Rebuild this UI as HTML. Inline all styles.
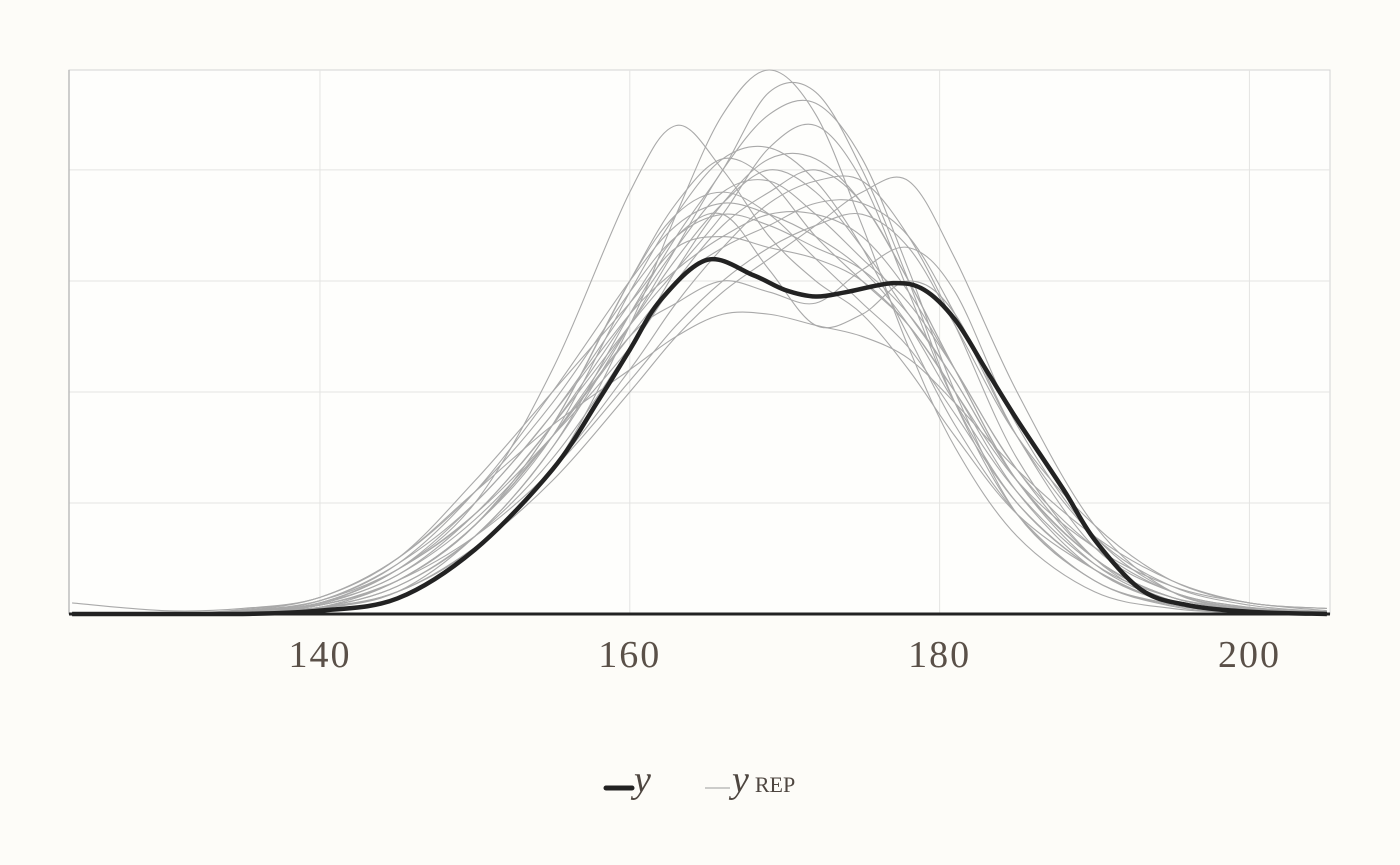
<!DOCTYPE html>
<html><head><meta charset="utf-8"><style>
html,body{margin:0;padding:0;background:#fdfcf8;}
svg{display:block;}
text{font-family:"Liberation Serif",serif;}
</style></head><body>
<svg id="chart" width="1400" height="865">
<rect width="1400" height="865" fill="#fdfcf8"/>
<g id="grid"></g>
<g id="reps"></g>
<g id="obs"></g>
<g id="axis"></g>
<g>
  <line x1="606" y1="788" x2="632" y2="788" stroke="#222" stroke-width="5" stroke-linecap="round"/>
  <text x="634" y="792" font-size="38" font-style="italic" fill="#4e4640">y</text>
  <line x1="705" y1="788" x2="730" y2="788" stroke="#bbb" stroke-width="1.5"/>
  <text x="732" y="792" font-size="38" font-style="italic" fill="#4e4640">y<tspan font-style="normal" font-size="22" dx="6">REP</tspan></text>
</g>
</svg>
<script>
const gridX = [124,130,135,140,145,150,155,160,163,166,169,172,175,178,181,185,190,195,200,205];
const xTicks = [140,160,180,200];
const yGrid = [0.01,0.02,0.03,0.04];
const yObsX = [124,130,135,140,145,150,155,158,160,162,165,168,170,172,174,177,179,181,183,185,188,190,193,196,200,205];
const yObs = [0,0,0,0.0003,0.0014,0.0058,0.013,0.0193,0.0238,0.0283,0.0319,0.0305,0.0292,0.0286,0.029,0.0298,0.0292,0.0265,0.022,0.0175,0.0112,0.0067,0.0022,0.0008,0.0002,0];
const rep1 = [0,0,0.0002,0.0008,0.003,0.008,0.016,0.026,0.032,0.037,0.040,0.038,0.033,0.027,0.021,0.012,0.005,0.0015,0.0004,0.0001];
const rep2 = [0,0,0.0003,0.001,0.004,0.010,0.022,0.038,0.044,0.040,0.034,0.030,0.027,0.022,0.016,0.009,0.004,0.001,0.0003,0];
const rep3 = [0,0,0.0001,0.0005,0.002,0.006,0.013,0.026,0.036,0.045,0.049,0.045,0.035,0.024,0.015,0.007,0.002,0.0005,0.0001,0];
const rep4 = [0.001,0.0003,0.0005,0.0015,0.005,0.011,0.017,0.022,0.025,0.027,0.027,0.026,0.025,0.023,0.019,0.013,0.007,0.003,0.001,0.0005];
const rep5 = [0,0,0.0002,0.0006,0.002,0.006,0.012,0.020,0.025,0.029,0.032,0.035,0.038,0.039,0.032,0.020,0.008,0.002,0.0005,0.0001];
const rep6 = [0,0,0.0002,0.001,0.004,0.010,0.018,0.028,0.034,0.036,0.031,0.026,0.027,0.030,0.027,0.016,0.006,0.002,0.0006,0.0002];
const rep7 = [0,0,0.0003,0.0012,0.004,0.009,0.016,0.024,0.030,0.035,0.038,0.040,0.037,0.030,0.022,0.012,0.005,0.0015,0.0004,0.0001];
const rep8 = [0,0,0.0001,0.0005,0.002,0.007,0.015,0.027,0.034,0.040,0.047,0.047,0.040,0.030,0.019,0.009,0.003,0.0008,0.0002,0];
const rep9 = [0,0,0.0004,0.0015,0.005,0.012,0.020,0.028,0.033,0.034,0.033,0.032,0.030,0.026,0.020,0.012,0.006,0.0025,0.001,0.0003];
const rep10 = [0,0,0.0001,0.0006,0.003,0.008,0.017,0.030,0.036,0.038,0.036,0.032,0.028,0.024,0.018,0.010,0.004,0.001,0.0003,0];
const rep11 = [0,0,0.0002,0.0008,0.003,0.007,0.013,0.021,0.026,0.030,0.033,0.035,0.036,0.033,0.026,0.016,0.008,0.003,0.001,0.0005];
const rep12 = [0,0,0.0002,0.0008,0.003,0.008,0.016,0.029,0.036,0.041,0.042,0.039,0.033,0.025,0.017,0.009,0.003,0.0009,0.0002,0];
const rep13 = [0,0,0.0002,0.0008,0.003,0.008,0.016,0.025,0.028,0.030,0.029,0.028,0.031,0.033,0.029,0.017,0.007,0.002,0.0005,0.0001];
const rep14 = [0,0,0.0003,0.001,0.004,0.009,0.017,0.026,0.031,0.036,0.042,0.044,0.039,0.029,0.019,0.010,0.004,0.001,0.0003,0.0001];
const rep15 = [0,0,0.0002,0.0012,0.0045,0.010,0.018,0.027,0.031,0.034,0.036,0.036,0.034,0.029,0.022,0.013,0.005,0.0015,0.0004,0.0001];
const rep16 = [0,0,0.0001,0.0006,0.0025,0.007,0.014,0.024,0.031,0.037,0.041,0.041,0.037,0.030,0.022,0.012,0.0045,0.0012,0.0003,0];
const rep17 = [0,0,0.0003,0.0015,0.005,0.011,0.019,0.029,0.034,0.036,0.035,0.033,0.031,0.027,0.021,0.012,0.005,0.0015,0.0004,0.0001];
const rep18 = [0,0,0.0001,0.0005,0.002,0.006,0.013,0.022,0.028,0.033,0.037,0.039,0.039,0.034,0.026,0.014,0.005,0.0012,0.0003,0];
const rep19 = [0,0,0.0002,0.001,0.0035,0.009,0.017,0.027,0.033,0.038,0.039,0.036,0.032,0.028,0.022,0.013,0.006,0.002,0.0006,0.0002];
const rep20 = [0,0,0.0002,0.0009,0.0035,0.0085,0.016,0.025,0.030,0.033,0.035,0.037,0.037,0.034,0.027,0.016,0.007,0.0025,0.0008,0.0002];
const rep21 = [0,0,0.0002,0.0008,0.003,0.008,0.017,0.030,0.037,0.041,0.039,0.034,0.030,0.026,0.020,0.011,0.004,0.001,0.0003,0];
const rep22 = [0,0,0.0001,0.0006,0.0025,0.007,0.015,0.026,0.033,0.040,0.045,0.046,0.041,0.031,0.020,0.009,0.003,0.0007,0.0001,0];
const rep23 = [0,0,0.0003,0.0012,0.0045,0.011,0.020,0.030,0.035,0.037,0.036,0.034,0.031,0.026,0.019,0.011,0.0045,0.0015,0.0005,0.0001];
const reps = [rep1,rep2,rep3,rep4,rep5,rep6,rep7,rep8,rep9,rep10,rep11,rep12,rep13,rep14,rep15,rep16,rep17,rep18,rep19,rep20,rep21,rep22,rep23];

const L=69,R=1330,T=70,B=614;
const xMin=123.8,xMax=205.2,yMax=0.049;
const sx=v=>L+(v-xMin)/(xMax-xMin)*(R-L);
const sy=v=>B-v/yMax*(B-T);
const NS='http://www.w3.org/2000/svg';
function mk(tag,attrs,parent){const e=document.createElementNS(NS,tag);for(const k in attrs)e.setAttribute(k,attrs[k]);parent.appendChild(e);return e;}
function path(xs,ys){
  const p=xs.map((x,i)=>[sx(x),sy(ys[i])]);
  let d='M'+p[0][0]+','+p[0][1];
  for(let i=0;i<p.length-1;i++){
    const p0=p[Math.max(0,i-1)],p1=p[i],p2=p[i+1],p3=p[Math.min(p.length-1,i+2)];
    const c1=[p1[0]+(p2[0]-p0[0])/6,p1[1]+(p2[1]-p0[1])/6];
    const c2=[p2[0]-(p3[0]-p1[0])/6,p2[1]-(p3[1]-p1[1])/6];
    d+=` C${c1[0]},${Math.min(B,c1[1])} ${c2[0]},${Math.min(B,c2[1])} ${p2[0]},${p2[1]}`;
  }
  return d;
}
const grid=document.getElementById('grid');
const gb=mk('rect',{x:L,y:T,width:R-L,height:B-T,fill:'#fefefc',stroke:'#d4d4d4','stroke-width':1},grid);


yGrid.forEach(v=>{const l=mk('line',{x1:L,x2:R,y1:sy(v),y2:sy(v),stroke:'#e4e4e2','stroke-width':1},grid);

});
xTicks.forEach(v=>{const l=mk('line',{x1:sx(v),x2:sx(v),y1:T,y2:B,stroke:'#e4e4e2','stroke-width':1},grid);

});
const ax=mk('line',{x1:L,x2:L,y1:T,y2:B,stroke:'#bdbdbd','stroke-width':1.5},grid);


const rg=document.getElementById('reps');
reps.forEach(r=>{const e=mk('path',{d:path(gridX,r),fill:'none',stroke:'#a9a9a9','stroke-width':1.1},rg);

});
const og=document.getElementById('obs');
const oe=mk('path',{d:path(yObsX,yObs),fill:'none',stroke:'#222','stroke-width':4.5,'stroke-linejoin':'round'},og);


const axg=document.getElementById('axis');
const bl=mk('line',{x1:L,x2:R,y1:B,y2:B,stroke:'#222','stroke-width':3},axg);


xTicks.forEach(v=>{const t=mk('text',{x:sx(v),y:667,'text-anchor':'middle','font-size':38,fill:'#5a5048','letter-spacing':'2'},axg);t.textContent=v;

});
</script>
</body></html>
